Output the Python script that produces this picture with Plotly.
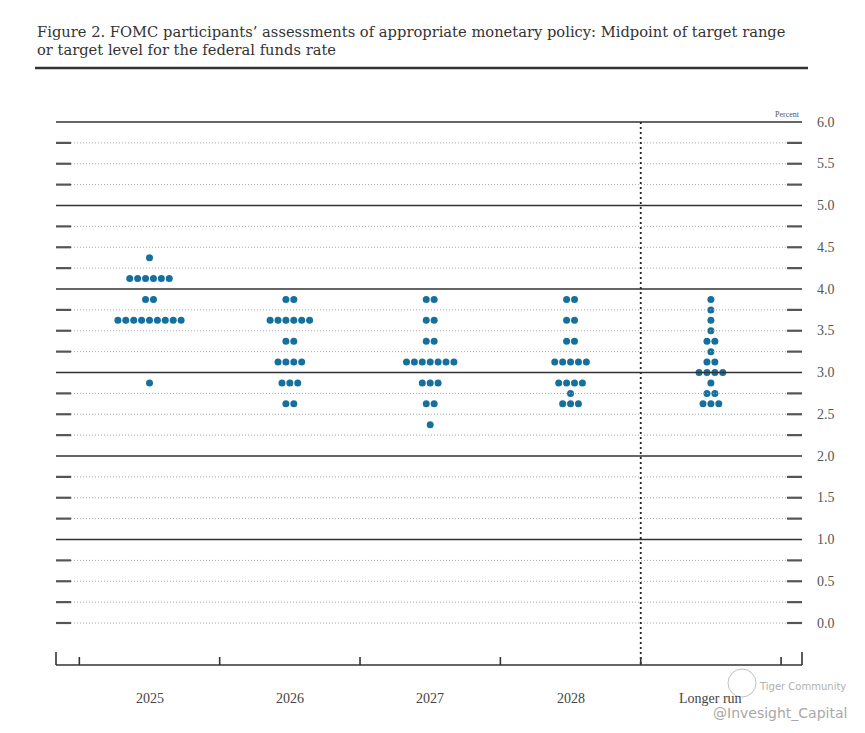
import plotly.graph_objects as go

# ---- data ----
categories = ["2025", "2026", "2027", "2028", "Longer run"]

levels_2025 = [4.375, 4.125, 3.875, 3.625, 2.875]
counts_2025 = [1, 6, 2, 9, 1]

levels_2026 = [3.875, 3.625, 3.375, 3.125, 2.875, 2.625]
counts_2026 = [2, 6, 2, 4, 3, 2]

levels_2027 = [3.875, 3.625, 3.375, 3.125, 2.875, 2.625, 2.375]
counts_2027 = [2, 2, 2, 7, 3, 2, 1]

levels_2028 = [3.875, 3.625, 3.375, 3.125, 2.875, 2.75, 2.625]
counts_2028 = [2, 2, 2, 5, 4, 1, 3]

levels_lr = [3.875, 3.75, 3.625, 3.5, 3.375, 3.25, 3.125, 3.0, 2.875, 2.75, 2.625]
counts_lr = [1, 1, 1, 1, 2, 1, 2, 4, 1, 2, 3]

y_ticks = [6.0, 5.5, 5.0, 4.5, 4.0, 3.5, 3.0, 2.5, 2.0, 1.5, 1.0, 0.5, 0.0]
y_tick_labels = ["6.0", "5.5", "5.0", "4.5", "4.0", "3.5", "3.0", "2.5", "2.0", "1.5", "1.0", "0.5", "0.0"]

columns = [
    (levels_2025, counts_2025),
    (levels_2026, counts_2026),
    (levels_2027, counts_2027),
    (levels_2028, counts_2028),
    (levels_lr, counts_lr),
]

# ---- layout constants ----
W, H = 865, 733
OFF = 8  # page body margin
X0PIX, XSTEP = 149.5 - OFF, 140.35
Y0PIX, YSTEP = 623.0 - OFF, 83.5
xr = [(0 - X0PIX) / XSTEP, (W - X0PIX) / XSTEP]
yr = [(Y0PIX - H) / YSTEP, Y0PIX / YSTEP]
DOT_GAP = 7.9 / XSTEP
DOT_COLOR = "#16709e"
SERIF = "Liberation Serif, Times New Roman, serif"
TSERIF = "DejaVu Serif, serif"


def px(x):
    return (x - OFF) / W


def py(y):
    return 1 - (y - OFF) / H


def dy(ypix):
    return (Y0PIX - (ypix - OFF)) / YSTEP


def dx(xpix):
    return ((xpix - OFF) - X0PIX) / XSTEP


xs, ys = [], []
for ci, (lv, cn) in enumerate(columns):
    for y, n in zip(lv, cn):
        for k in range(n):
            xs.append(ci + (k - (n - 1) / 2) * DOT_GAP)
            ys.append(y)

fig = go.Figure()
fig.add_trace(go.Scatter(
    x=xs, y=ys, mode="markers",
    marker=dict(size=7, color=DOT_COLOR, line=dict(width=0)),
    hoverinfo="skip", showlegend=False,
))

shapes = []
XL, XR = dx(56), dx(802)
tick_len = 15 / XSTEP
for i in range(25):
    y = 6.0 - i * 0.25
    if abs(y - round(y)) < 1e-9 and y > 0.5:
        shapes.append(dict(type="line", x0=XL, x1=XR, y0=y, y1=y,
                           line=dict(color="#333333", width=1.6)))
    else:
        shapes.append(dict(type="line", x0=XL + tick_len, x1=XR - tick_len, y0=y, y1=y,
                           line=dict(color="#a8a8a8", width=1, dash="1px,2px")))
        shapes.append(dict(type="line", x0=XL, x1=XL + tick_len, y0=y, y1=y,
                           line=dict(color="#555555", width=2.2)))
        shapes.append(dict(type="line", x0=XR - tick_len, x1=XR, y0=y, y1=y,
                           line=dict(color="#555555", width=2.2)))

ybot = dy(665)
# vertical dotted separator
shapes.append(dict(type="line", x0=3.5, x1=3.5, y0=6.0, y1=ybot,
                   line=dict(color="#222222", width=1.8, dash="2px,3px")))
# bottom axis
shapes.append(dict(type="line", x0=XL, x1=XR, y0=ybot, y1=ybot,
                   line=dict(color="#333333", width=1.6)))
for xe in [XL, XR]:
    shapes.append(dict(type="line", x0=xe, x1=xe, y0=ybot, y1=dy(652),
                       line=dict(color="#333333", width=1.6)))
for xt in [-0.5, 0.5, 1.5, 2.5, 3.5, 4.5]:
    shapes.append(dict(type="line", x0=xt, x1=xt, y0=ybot, y1=dy(657),
                       line=dict(color="#333333", width=1.6)))
# title rule
shapes.append(dict(type="line", xref="paper", yref="paper",
                   x0=px(35), x1=px(808), y0=py(68), y1=py(68),
                   line=dict(color="#333333", width=2.5)))

annotations = []
for lab, yv in zip(y_tick_labels, y_ticks):
    annotations.append(dict(x=dx(826), y=yv, text=lab, showarrow=False,
                            xanchor="center", yanchor="middle",
                            font=dict(family=SERIF, size=14, color="#555555")))
for i, c in enumerate(categories):
    annotations.append(dict(x=i, y=dy(698), text=c, showarrow=False,
                            xanchor="center", yanchor="middle",
                            font=dict(family=SERIF, size=14, color="#444444")))
annotations.append(dict(x=XR, y=6.0, text="Percent", showarrow=False,
                        xanchor="right", yanchor="bottom", yshift=1,
                        font=dict(family=SERIF, size=8, color="#555555")))
annotations.append(dict(xref="paper", yref="paper", x=px(35), y=py(32),
                        text="Figure 2. FOMC participants\u2019 assessments of appropriate monetary policy: Midpoint of target range",
                        showarrow=False, xanchor="left", yanchor="middle",
                        font=dict(family=TSERIF, size=14.7, color="#333333")))
annotations.append(dict(xref="paper", yref="paper", x=px(35), y=py(50),
                        text="or target level for the federal funds rate",
                        showarrow=False, xanchor="left", yanchor="middle",
                        font=dict(family=TSERIF, size=14.7, color="#333333")))
# watermark
annotations.append(dict(xref="paper", yref="paper", x=px(848), y=py(686),
                        text="Tiger Community", showarrow=False, xanchor="right", yanchor="middle",
                        font=dict(family="DejaVu Sans", size=10, color="#b0b0b0")))
annotations.append(dict(xref="paper", yref="paper", x=px(849), y=py(713),
                        text="@Invesight_Capital", showarrow=False, xanchor="right", yanchor="middle",
                        font=dict(family="DejaVu Sans", size=14, color="#a8a8a8")))
shapes.append(dict(type="circle", xref="paper", yref="paper",
                   x0=px(728), x1=px(756), y0=py(697), y1=py(669),
                   line=dict(color="#c0c0c0", width=1)))

fig.update_layout(
    width=W, height=H,
    margin=dict(l=0, r=0, t=0, b=0),
    paper_bgcolor="white", plot_bgcolor="white",
    xaxis=dict(range=xr, visible=False, fixedrange=True),
    yaxis=dict(range=yr, visible=False, fixedrange=True),
    shapes=shapes, annotations=annotations,
    showlegend=False,
)
fig.write_html("out.html")
